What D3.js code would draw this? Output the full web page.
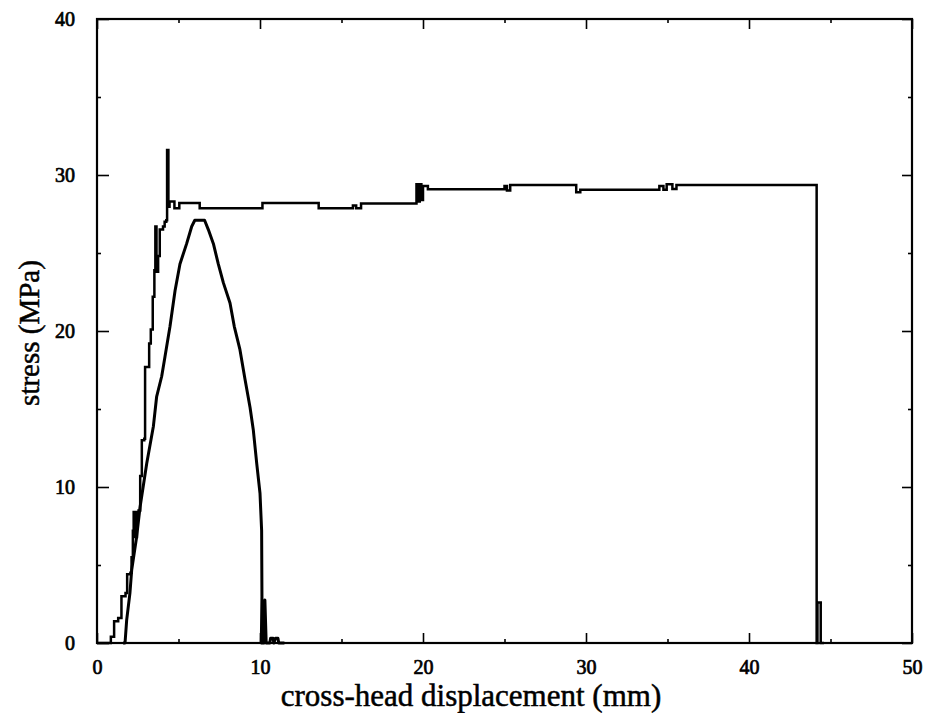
<!DOCTYPE html>
<html>
<head>
<meta charset="utf-8">
<script src="https://cdn.jsdelivr.net/npm/d3@7"></script>
<style>
  html, body { margin: 0; padding: 0; background: #fff; }
  svg { display: block; }
  text { font-family: "Liberation Serif", "DejaVu Serif", serif; fill: #000; }
</style>
</head>
<body>
<svg id="chart" width="925" height="713"></svg>
<script>
// ---- data ----
const xTicks = [0, 10, 20, 30, 40, 50];
const yTicks = [0, 10, 20, 30, 40];
const xMinorTicks = [5, 15, 25, 35, 45];
const yMinorTicks = [5, 15, 25, 35];
const xTitle = "cross-head displacement (mm)";
const yTitle = "stress (MPa)";

// Long test (stepped record)
const seriesA_x = [0, 0.85, 1.05, 1.3, 1.5, 1.75, 1.85, 2.05, 2.12, 2.2, 2.25, 2.35, 2.45, 2.55, 2.65, 2.75, 2.9, 2.95, 3.2, 3.3, 3.42, 3.52, 3.58, 3.65, 3.75, 3.85, 4.05, 4.15, 4.25, 4.3, 4.38, 4.45, 4.75, 5.05, 6.3, 10.15, 13.6, 15.7, 15.9, 16.2, 19.6, 19.7, 19.8, 19.9, 20.0, 20.3, 25.0, 25.15, 25.35, 29.4, 29.65, 34.5, 34.75, 34.95, 35.3, 35.55, 44.15, 44.2, 44.4, 44.6];
const seriesA_y = [0, 0.4, 1.4, 1.6, 3.0, 3.2, 4.4, 4.5, 5.5, 7.2, 8.4, 6.8, 8.4, 8.5, 10.7, 13.0, 13.1, 17.7, 19.2, 20.1, 22.2, 23.9, 26.7, 23.8, 24.8, 26.5, 26.7, 27.0, 27.1, 31.6, 27.97, 28.3, 27.87, 28.2, 27.87, 28.2, 27.87, 28.05, 27.87, 28.18, 29.4, 28.3, 29.4, 28.4, 29.3, 29.08, 29.3, 29.0, 29.36, 28.9, 29.05, 29.3, 29.05, 29.4, 29.1, 29.36, 0, 2.6, 0, 0];

// Short test (hump)
const seriesB_x = [1.6, 1.72, 1.82, 2.02, 2.13, 2.43, 2.64, 3.05, 3.46, 3.66, 3.97, 4.17, 4.48, 4.79, 5.09, 5.5, 5.81, 6.0, 6.6, 6.83, 7.14, 7.44, 7.75, 8.16, 8.42, 8.77, 9.08, 9.39, 9.59, 9.8, 10.0, 10.1, 10.12, 10.08, 10.25, 10.3, 10.38, 10.6, 10.65, 10.8, 10.85, 10.95, 11.1, 11.15, 11.5];
const seriesB_y = [0, 0, 1.47, 3.2, 4.7, 6.8, 8.7, 11.5, 13.9, 15.8, 17.1, 18.35, 20.3, 22.6, 24.3, 25.6, 26.7, 27.1, 27.1, 26.5, 25.6, 24.3, 23.1, 21.8, 20.3, 18.8, 16.9, 15.1, 13.65, 11.5, 9.6, 7.2, 3.0, 0, 0, 2.75, 0, 0, 0.3, 0.3, 0, 0.3, 0.3, 0, 0];

// ---- layout ----
const svg = d3.select("#chart");
const L = 97, R = 912, T = 19, B = 643;
const x = d3.scaleLinear().domain([0, 50]).range([L, R]);
const y = d3.scaleLinear().domain([0, 40]).range([B, T]);

const major = 10, minor = 4;

// axes with inward ticks
svg.append("g").attr("transform", `translate(0,${B})`)
  .call(d3.axisBottom(x).tickValues(xTicks).tickSizeInner(-major).tickSizeOuter(0).tickPadding(major + 7).tickFormat(d3.format("d")));
svg.append("g").attr("transform", `translate(0,${T})`)
  .call(d3.axisTop(x).tickValues(xTicks).tickSizeInner(-major).tickSizeOuter(0).tickFormat(""));
svg.append("g").attr("transform", `translate(${L},0)`)
  .call(d3.axisLeft(y).tickValues(yTicks).tickSizeInner(-12).tickSizeOuter(0).tickPadding(12 + 10).tickFormat(d3.format("d")));
svg.append("g").attr("transform", `translate(${R},0)`)
  .call(d3.axisRight(y).tickValues(yTicks).tickSizeInner(-major).tickSizeOuter(0).tickFormat(""));

// minor ticks
svg.append("g").attr("transform", `translate(0,${B})`)
  .call(d3.axisBottom(x).tickValues(xMinorTicks).tickSizeInner(-minor).tickSizeOuter(0).tickFormat(""));
svg.append("g").attr("transform", `translate(0,${T})`)
  .call(d3.axisTop(x).tickValues(xMinorTicks).tickSizeInner(-minor).tickSizeOuter(0).tickFormat(""));
svg.append("g").attr("transform", `translate(${L},0)`)
  .call(d3.axisLeft(y).tickValues(yMinorTicks).tickSizeInner(-minor).tickSizeOuter(0).tickFormat(""));
svg.append("g").attr("transform", `translate(${R},0)`)
  .call(d3.axisRight(y).tickValues(yMinorTicks).tickSizeInner(-minor).tickSizeOuter(0).tickFormat(""));

svg.selectAll(".domain").attr("stroke", "none");
svg.selectAll(".tick line").attr("stroke", "#000").attr("stroke-width", 1.6);
svg.selectAll(".tick text").attr("font-size", 20).attr("font-family", "Liberation Serif")
  .attr("fill", "#000").attr("stroke", "#000").attr("stroke-width", 0.7);

// frame
svg.append("rect").attr("x", L).attr("y", T).attr("width", R - L).attr("height", B - T)
  .attr("fill", "none").attr("stroke", "#000").attr("stroke-width", 2.2);

// curves
const dataA = seriesA_x.map((d, i) => [d, seriesA_y[i]]);
const dataB = seriesB_x.map((d, i) => [d, seriesB_y[i]]);

svg.append("path").datum(dataA)
  .attr("fill", "none").attr("stroke", "#000").attr("stroke-width", 2.5).attr("stroke-linejoin", "miter")
  .attr("d", d3.line().x(d => x(d[0])).y(d => y(d[1])).curve(d3.curveStepAfter));

svg.append("path").datum(dataB)
  .attr("fill", "none").attr("stroke", "#000").attr("stroke-width", 3).attr("stroke-linejoin", "round")
  .attr("d", d3.line().x(d => x(d[0])).y(d => y(d[1])));

// titles
svg.append("text").attr("x", 471).attr("y", 706).attr("text-anchor", "middle")
  .attr("font-size", 31).attr("stroke", "#000").attr("stroke-width", 0.5).text(xTitle);
svg.append("text").attr("transform", "translate(39,333) rotate(-90)").attr("text-anchor", "middle")
  .attr("font-size", 29).attr("stroke", "#000").attr("stroke-width", 0.5).text(yTitle);
</script>
</body>
</html>
